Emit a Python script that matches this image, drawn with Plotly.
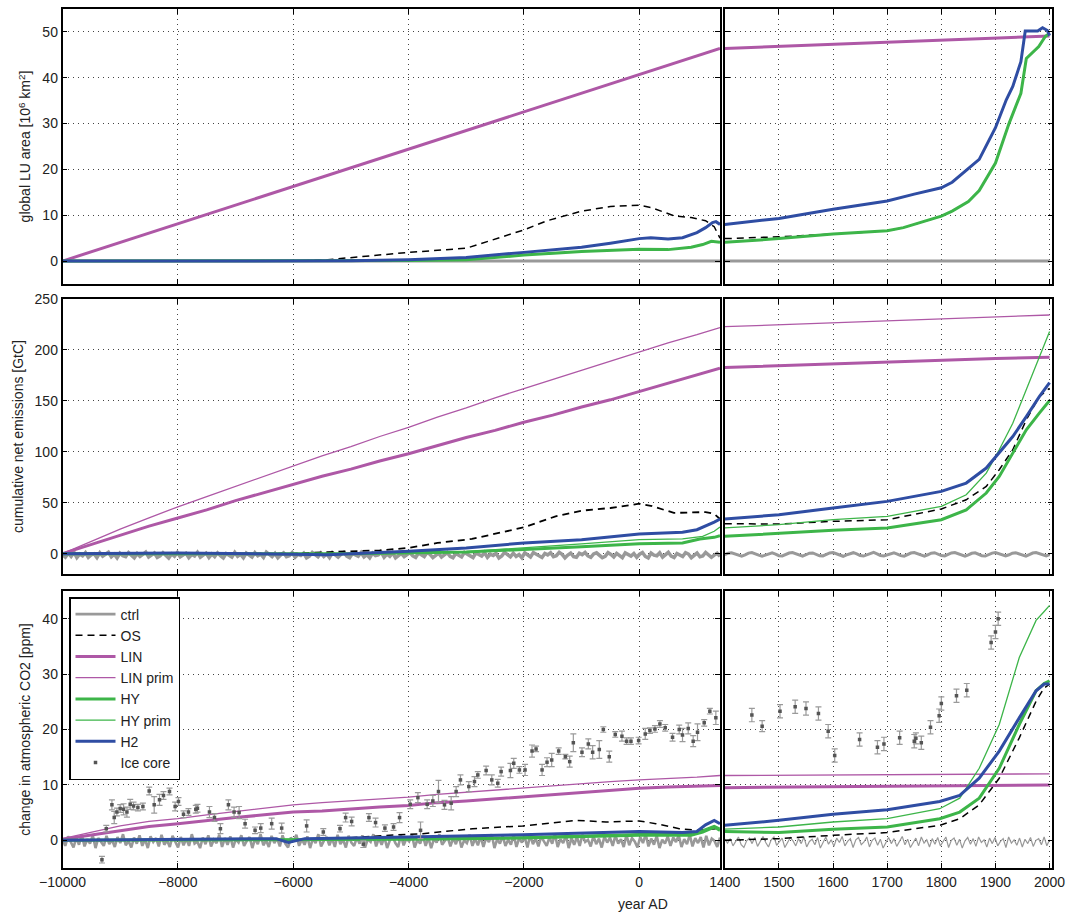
import numpy as np
import plotly.graph_objects as go

# ---------------- DATA ----------------
# Panel 1: global land-use area [10^6 km^2]
lu_ctrl_left_x = [-10000, 1400]
lu_ctrl_left_y = [0, 0]
lu_ctrl_right_x = [1400, 2000]
lu_ctrl_right_y = [0, 0]

lu_lin_left_x = [-10000, 1400]
lu_lin_left_y = [0, 46.4]
lu_lin_right_x = [1400, 2000]
lu_lin_right_y = [46.4, 49.1]

lu_os_left_x = [-10000, -6000, -5400, -4000, -3000, -2500, -2000, -1600, -1000, -500, 0, 200, 600, 900, 1150, 1300, 1400]
lu_os_left_y = [0, 0, 0.3, 1.9, 2.8, 4.8, 6.8, 8.8, 10.9, 11.9, 12.2, 11.7, 9.9, 9.5, 8.8, 7.5, 5.0]
lu_os_right_x = [1400, 1500, 1600, 1700, 1730, 1765, 1800, 1820, 1850, 1870, 1900, 1925, 1947, 1957, 1980, 1992, 2000]
lu_os_right_y = [4.9, 5.3, 5.9, 6.6, 7.3, 8.5, 9.8, 10.9, 13.0, 15.4, 21.4, 30.0, 36.6, 44.2, 46.8, 49.0, 49.7]

lu_h2_left_x = [-10000, -6000, -5000, -4000, -3000, -2000, -1000, -500, 0, 200, 500, 750, 1000, 1150, 1270, 1330, 1400]
lu_h2_left_y = [0, 0, 0.05, 0.3, 0.8, 1.9, 3.0, 3.9, 4.9, 5.1, 4.8, 5.1, 6.2, 7.3, 8.4, 8.6, 8.0]
lu_h2_right_x = [1400, 1500, 1600, 1700, 1750, 1800, 1820, 1845, 1870, 1900, 1920, 1932, 1947, 1955, 1978, 1987, 1996, 2000]
lu_h2_right_y = [8.0, 9.3, 11.3, 13.1, 14.6, 16.0, 17.2, 19.6, 22.2, 29.1, 35.2, 38.1, 43.5, 50.2, 50.2, 50.9, 50.3, 49.2]

lu_hy_left_x = [-10000, -6000, -4000, -3000, -2000, -1000, 0, 500, 900, 1100, 1250, 1400]
lu_hy_left_y = [0, 0, 0.1, 0.3, 1.3, 2.1, 2.6, 2.5, 3.0, 3.6, 4.3, 4.1]
lu_hy_right_x = [1400, 1500, 1600, 1700, 1730, 1765, 1800, 1820, 1850, 1870, 1900, 1925, 1947, 1957, 1980, 1992, 2000]
lu_hy_right_y = [4.1, 4.9, 5.9, 6.6, 7.3, 8.5, 9.8, 10.9, 13.0, 15.4, 21.4, 30.0, 36.6, 44.2, 46.8, 49.0, 49.7]

# Panel 2: cumulative net emissions [GtC]
em_lin_left_x = [-10000, -9500, -9000, -8500, -8000, -7500, -7000, -6500, -6000, -5500, -5000, -4500,
                 -4000, -3500, -3000, -2500, -2000, -1500, -1000, -500, 0, 500, 1000, 1400]
em_lin_left_y = [0, 9, 18, 27, 35, 43, 52, 60, 68, 76, 83, 91, 98, 106, 114, 121, 129, 136, 144, 151, 159, 167, 175, 182]
em_linp_left_y = [0, 12, 24, 35, 46, 56, 66, 76, 86, 96, 105, 115, 124, 134, 143, 153, 162, 171, 180, 189, 198, 207, 215, 222]

em_os_left_x = [-10000, -6000, -5400, -4500, -4000, -3500, -2900, -2000, -1450, -1000, -500, 0, 200, 600, 1150, 1300, 1400]
em_os_left_y = [0, 0, 1.5, 3.2, 5.6, 10.5, 14.4, 25.8, 36.6, 42.2, 44.8, 49.0, 47.0, 40.0, 40.8, 39.0, 34.0]
em_h2_left_x = [-10000, -8000, -6000, -5400, -4000, -3000, -2000, -1000, 0, 750, 1000, 1200, 1300, 1400]
em_h2_left_y = [0, 0.5, -0.5, -1.0, 2.3, 5.5, 10.5, 13.7, 19.3, 20.9, 23.5, 28.0, 31.0, 34.0]
em_hyp_left_x = [-10000, -5000, -3000, -2000, -1000, 0, 750, 1100, 1300, 1400]
em_hyp_left_y = [0, 0, 2.0, 5.6, 9.5, 13.7, 14.4, 17.0, 22.0, 26.2]
em_hy_left_x = [-10000, -5000, -3000, -2000, -1000, 0, 750, 1050, 1300, 1400]
em_hy_left_y = [0, 0, 1.5, 3.9, 6.8, 9.8, 10.5, 14.4, 16.0, 17.6]

em_right_x = [1400, 1500, 1600, 1700, 1800, 1846, 1883, 1907, 1932, 1957, 1981, 2000]
em_h2_right_y = [34.0, 38.2, 44.8, 51.3, 61.1, 69.3, 84.0, 98.7, 115.0, 134.6, 154.2, 168.0]
em_hyp_right_y = [25.2, 28.4, 33.3, 36.6, 46.4, 57.8, 79.0, 102.0, 128.0, 160.8, 193.4, 218.0]
em_os_right_y = [29.4, 29.0, 31.7, 33.3, 43.8, 52.9, 66.0, 82.4, 102.0, 131.4, 154.2, 162.4]
em_hy_right_y = [17.0, 20.3, 22.9, 25.2, 33.3, 43.0, 59.5, 75.8, 98.7, 121.6, 138.0, 150.3]
em_lin_right_x = [1400, 1500, 1600, 1700, 1800, 1900, 2000]
em_lin_right_y = [182.7, 184.5, 186.5, 188.5, 190.0, 191.5, 192.8]
em_linp_right_y = [222.8, 224.8, 226.8, 228.9, 230.7, 232.6, 234.3]

em_ctrl_left_y = [-1.0, -3.5, 0.5, -2.8, 1.2, -4.0, -0.5, -2.2, 0.9, -3.6, -1.3, -0.2, -3.9, 0.8, -2.5, -1.0, 1.3, -3.2, -0.6, -4.2,
                  0.4, -2.0, -3.0, 1.0, -1.6, -4.1, 0.2, -2.7, -0.8, 1.4, -3.4, -1.2, 0.6, -3.8, -2.3, 0.9, -1.9, -4.3, -0.3, -2.6,
                  1.1, -3.1, -1.4, 0.3, -4.0, -0.9, -2.4, 1.3, -3.5, -1.7, 0.5, -3.9, -0.4, -2.9, 0.8, -2.1, -4.2, 0.1, -1.5, -3.3,
                  1.2, -2.6, -0.7, -4.0, 0.6, -1.8, -3.4, 0.9, -2.2, -0.5, -3.7, 1.4, -1.1, -2.9, 0.2, -4.1, -1.3, 0.7, -3.0, -2.0,
                  1.0, -3.6, -0.8, -1.9, 0.4, -4.2, -2.5, 1.2, -1.0, -3.2, 0.6, -2.8, -0.3, -4.0, 0.9, -1.6, -3.5, -0.6, 1.3, -2.4,
                  -3.9, 0.2, -1.4, -2.7, 1.1, -3.3, -0.9, -4.1, 0.5, -2.0, -1.2, 1.4, -3.6, -0.4, -2.6, 0.8, -4.2, -1.7, 0.3, -3.0,
                  -0.7, 1.0, -2.3, -3.8, 0.6, -1.5, -2.9, 1.3, -0.8, -4.0, -2.1, 0.4, -3.4, -1.0, 0.9, -2.6, -4.1, 0.1, -1.8, -3.2,
                  1.2, -0.5, -2.8, -3.9, 0.7, -1.3, -2.4, 1.0, -3.6, -0.6, -1.9, 0.3, -4.2, -2.2, 1.4, -1.1, -3.1, 0.5, -2.7, -0.9,
                  -4.0, 0.8, -1.6, -3.3, 1.1, -0.4, -2.5, -3.8, 0.2, -1.2, 0.9, -3.0, -2.0, 1.3, -0.7, -4.1, -1.4, 0.6, -2.9, -3.5,
                  0.4, -1.0, 1.2, -2.3, -3.7, -0.3, 0.8, -1.7, -4.0, -2.6, 1.0, -0.8, -3.2, 0.3, -1.9, -3.9, 0.7, -1.1, -2.4, 0.1,
                  -3.6, -0.6, 1.1, -2.8, -4.2, 0.5, -1.5, -2.1, 0.9, -3.4, -0.9, 1.3, -2.5, -3.8, 0.2, -1.3, -2.9, 1.0, -0.4, -4.0,
                  -1.8, 0.6, -3.1, -2.2, 1.2, -0.7, -3.6, -1.4, 0.4, -2.7]
em_ctrl_right_y = [-1.0, 0.4, 0.9, -0.2, -1.8, -2.4, -1.2, 0.5, 1.0, 0.1, -1.5, -2.6, -1.4, 0.3, 0.8, -0.4, -2.0, -2.3,
                   -0.9, 0.6, 1.1, -0.1, -1.7, -2.5, -1.1, 0.4, 0.7, -0.5, -2.1, -2.2, -0.8, 0.7, 1.0, 0.0, -1.6, -2.6,
                   -1.3, 0.2, 0.9, -0.3, -1.9, -2.4, -1.0, 0.5, 1.2, -0.2, -1.8, -2.3, -1.2, 0.3, 0.8, -0.4, -2.0, -2.5,
                   -0.9, 0.6, 1.0, -0.1, -1.7, -2.4, -1.1, 0.4, 0.9, -0.3, -1.9, -2.2, -0.8, 0.7, 1.1, 0.0, -1.6, -2.5,
                   -1.2, 0.3, 0.8, -0.4, -2.0, -2.4, -1.0, 0.5, 1.0, -0.2, -1.8, -2.3, -1.1, 0.4, 0.9, -0.3, -1.9, -2.5,
                   -0.9, 0.6, 1.0, -0.1, -1.7, -2.3, -1.0]

# Panel 3: change in atmospheric CO2 [ppm]
co2_lin_left_x = [-10000, -9500, -9000, -8500, -8000, -7500, -7000, -6500, -6000, -5500, -5000, -4500,
                  -4000, -3500, -3000, -2500, -2000, -1500, -1000, -500, 0, 500, 1000, 1400]
co2_lin_left_y = [0.2, 1.0, 1.8, 2.5, 3.0, 3.6, 4.1, 4.6, 5.1, 5.3, 5.7, 6.0, 6.3, 6.8, 7.1, 7.5, 7.9, 8.3, 8.7, 9.1, 9.4, 9.6, 9.8, 9.9]
co2_linp_left_y = [0.3, 1.4, 2.6, 3.4, 3.9, 4.6, 5.2, 5.8, 6.4, 6.8, 7.1, 7.4, 7.8, 8.3, 8.7, 9.1, 9.4, 9.8, 10.2, 10.6, 10.9, 11.1, 11.4, 11.7]

co2_os_left_x = [-10000, -6000, -5600, -4329, -3752, -2886, -2020, -1097, -577, 0, 288, 693, 1039, 1328, 1400]
co2_os_left_y = [0, 0, 0.1, 0.9, 1.2, 2.1, 2.6, 3.6, 3.3, 3.5, 3.0, 2.1, 1.8, 2.1, 2.0]
co2_h2_left_x = [-10000, -8000, -6300, -6084, -5800, -4000, -2020, 0, 750, 1000, 1150, 1300, 1400]
co2_h2_left_y = [0.0, 0.2, 0.3, -0.4, 0.3, 0.6, 1.0, 1.6, 1.4, 1.6, 2.8, 3.6, 3.0]
co2_hy_left_x = [-10000, -6000, -4000, -2020, 0, 900, 1100, 1300, 1400]
co2_hy_left_y = [0.0, 0.1, 0.2, 0.4, 0.9, 0.9, 1.5, 2.4, 1.8]
co2_hyp_left_x = [-10000, -6000, -4000, -2020, 0, 900, 1100, 1300, 1400]
co2_hyp_left_y = [0.0, 0.1, 0.3, 0.6, 1.2, 1.2, 1.9, 2.7, 2.2]

co2_right_x = [1400, 1500, 1600, 1700, 1797, 1834, 1870, 1907, 1944, 1975, 1990, 2000]
co2_h2_right_y = [2.7, 3.6, 4.7, 5.5, 7.0, 8.1, 11.2, 16.1, 22.1, 27.0, 28.2, 28.2]
co2_hyp_right_y = [2.0, 2.4, 3.3, 3.9, 5.7, 7.6, 13.0, 20.9, 33.0, 39.7, 41.3, 42.4]
co2_hy_right_y = [1.6, 1.4, 2.0, 2.4, 3.9, 5.1, 7.6, 13.0, 20.9, 27.0, 28.3, 28.8]
co2_os_right_y = [0.0, 0.3, 0.9, 1.4, 2.7, 3.9, 6.4, 11.2, 18.5, 25.1, 27.5, 28.2]
co2_lin_right_x = [1400, 1600, 1800, 2000]
co2_lin_right_y = [9.5, 9.7, 9.8, 10.0]
co2_linp_right_y = [11.7, 11.8, 11.9, 12.0]

co2_ctrl_left_y = [0.3, -1.0, 0.7, -0.4, -1.3, 0.5, -0.8, 1.0, -1.1, 0.2, -0.6, 0.9, -1.4, 0.4, -0.2, -1.0, 0.8, -0.7, 0.1, -1.2,
                   0.6, -0.5, 1.1, -0.9, -0.1, -1.3, 0.5, -0.6, 0.9, -1.0, 0.2, -1.4, 0.7, -0.3, 0.4, -1.1, 1.0, -0.8, 0.0, -1.2,
                   0.8, -0.4, -1.3, 0.6, -0.9, 0.3, -1.0, 1.1, -0.6, -0.2, -1.4, 0.5, -0.7, 0.9, -1.1, 0.1, -0.5, 1.0, -1.2, 0.4,
                   -0.8, 0.7, -1.3, 0.2, -0.4, 0.9, -1.0, -0.1, 0.6, -1.4, 0.3, -0.7, 1.1, -0.9, 0.0, -1.2, 0.8, -0.5, 0.4, -1.1,
                   0.9, -0.6, -1.3, 0.5, -0.2, 1.0, -1.0, 0.2, -0.8, 0.7, -1.4, 0.3, -0.5, 1.1, -1.1, -0.1, 0.6, -0.9, 0.4, -1.2,
                   1.0, -0.7, 0.1, -1.3, 0.8, -0.4, -1.0, 0.5, -0.6, 0.9, -1.2, 0.2, -0.3, 1.1, -1.1, 0.4, -0.8, 0.6, -1.4, 0.0,
                   0.7, -0.5, -1.2, 0.9, -0.9, 0.3, -0.2, 1.0, -1.3, 0.1, -0.6, 0.8, -1.0, 0.5, -1.4, 0.2, -0.4, 1.1, -0.8, -0.1,
                   0.6, -1.1, 0.4, -0.7, 0.9, -1.3, 0.0, -0.5, 1.0, -1.0, 0.3, -0.9, 0.7, -1.2, 0.5, -0.3, 1.1, -1.4, 0.2, -0.6,
                   0.8, -1.0, 0.1, -0.8, 1.0, -1.2, 0.4, -0.4, 0.6, -1.3, 0.9, -0.7, 0.3, -1.1, 0.7, -0.2, -1.0, 0.5, -0.6, 1.1,
                   -1.2, 0.2, -0.5, 0.9, -1.4, 0.4, -0.8, 0.6, -1.0, 1.0, -0.3, 0.1, -1.1, 0.8, -0.7, 0.3, -1.3, 0.7, -0.4, 0.5,
                   -1.0, 0.9, -0.6, 0.2, -1.2, 1.0, -0.9, 0.4, -0.2, -1.3, 0.6, -0.5, 1.1, -1.1, 0.3, -0.8, 0.8, -1.4, 0.1, -0.6,
                   0.7, -1.0, 0.5, -0.3, 0.9, -1.2, 0.2, -0.7, 1.0, -1.1, 0.4, -0.5, 0.6, -1.3, 0.8, -0.9, 0.3, -0.1, -1.2, 0.5]
co2_ctrl_right_y = [0.2, -0.5, 0.3, -1.0, -0.2, 0.6, -0.8, -1.3, -0.1, 0.4, -0.6, 0.5, -1.1, -0.3, 0.7, -0.4, -1.2, 0.1,
                    0.6, -0.9, -0.2, 0.4, -1.3, -0.5, 0.5, -0.1, -1.0, 0.3, -0.6, 0.6, -1.2, -0.2, 0.2, -0.8, 0.5, -1.4,
                    -0.3, 0.6, -0.7, 0.1, -1.1, 0.4, -0.4, 0.7, -1.0, -0.2, 0.3, -1.3, 0.1, 0.5, -0.8, -0.3, 0.6, -1.2,
                    0.0, 0.4, -0.9, 0.2, -1.4, -0.4, 0.5, -0.6, 0.3, -1.1, -0.1, 0.7, -0.8, 0.2, -1.3, -0.3, 0.4, -1.0,
                    0.6, -0.5, 0.1, -1.2, 0.3, -0.7, 0.5, -1.0, -0.2, 0.6, -1.3, 0.0, 0.4, -0.9, 0.2, -1.4, -0.1, 0.5,
                    -0.7, 0.3, -1.1, 0.6, -0.4, 0.1, -1.2, 0.4, -0.6, 0.5, -1.0, -0.2, 0.3, -1.3, 0.6, -0.5, 0.1, -0.9,
                    0.4, -1.2, 0.2, -0.6, 0.5, -1.1, 0.0, 0.3, -0.8, 0.6, -1.0, 0.1]

ice_left_year = [-9316, -9241, -9143, -9103, -9057, -9000, -8941, -8883, -8826, -8768, -8693, -8606, -8497, -8410,
                 -8318, -8249, -8145, -8047, -7989, -7902, -7816, -7689, -7660, -7452, -7365, -7262, -7123, -7025,
                 -6938, -6834, -6661, -6563, -6373, -6200, -5767, -5478, -5189, -5091, -4987, -4785, -4687, -4572,
                 -4410, -4260, -4156, -3971, -3838, -3792, -3677, -3579, -3481, -3377, -3261, -3175, -3100, -2955,
                 -2857, -2799, -2655, -2557, -2453, -2395, -2234, -2176, -2078, -1980, -1859, -1789, -1685, -1599,
                 -1518, -1397, -1281, -1206, -1143, -993, -883, -808, -693, -623, -520, -416, -300, -219, -144, -11,
                 104, 185, 272, 358, 450, 577, 693, 750, 849, 935, 1010, 1126, 1224, 1328]
ice_left_co2 = [-3.5, 2.1, 6.4, 4.1, 5.1, 5.75, 5.6, 5.1, 6.5, 6.2, 5.9, 6.1, 8.9, 6.4, 7.3, 8.1, 8.8, 6.1, 7.0, 4.7,
                5.1, 5.6, 5.8, 5.1, 4.1, 2.1, 6.4, 5.1, 5.0, 3.0, 1.8, 2.2, 3.0, 2.2, 2.6, 1.5, 2.1, 4.1, 3.4, -0.7,
                4.1, 3.2, 2.2, 2.4, 4.1, 6.5, 7.7, 1.8, 6.5, 7.1, 8.8, 6.4, 6.7, 8.8, 10.9, 9.7, 10.6, 11.8, 12.6,
                10.9, 10.3, 12.4, 12.6, 13.9, 12.7, 12.7, 16.1, 16.5, 12.7, 14.1, 14.5, 16.1, 15.1, 14.2, 17.6, 15.9,
                17.4, 15.9, 16.4, 20.0, 15.1, 19.1, 18.8, 17.9, 17.9, 18.0, 19.2, 19.8, 20.1, 21.0, 20.3, 18.6, 20.0,
                19.0, 20.2, 17.9, 19.5, 21.2, 23.3, 22.1]
ice_left_err = [0.6, 0.6, 0.9, 1.1, 0.7, 0.7, 1.0, 0.9, 0.9, 0.7, 0.6, 0.6, 0.7, 1.5, 1.0, 0.7, 0.6, 0.8, 0.7, 0.6,
                0.6, 0.7, 0.7, 1.0, 0.7, 0.9, 0.9, 0.9, 1.1, 0.8, 0.6, 0.8, 1.0, 0.9, 1.1, 0.6, 0.6, 0.8, 0.8, 0.6,
                0.7, 0.8, 0.6, 0.6, 0.9, 0.8, 0.9, 1.5, 0.8, 1.0, 2.0, 0.8, 1.2, 0.9, 0.9, 0.9, 0.9, 0.6, 0.8, 0.9,
                0.7, 0.8, 1.3, 0.9, 0.6, 1.0, 1.1, 0.5, 1.0, 0.8, 1.2, 0.6, 0.4, 1.0, 1.6, 0.8, 0.9, 1.2, 1.6, 0.5,
                1.0, 0.5, 0.9, 0.6, 0.6, 0.6, 1.0, 0.5, 0.6, 0.6, 0.6, 0.7, 0.8, 1.2, 1.0, 1.0, 1.5, 0.6, 0.5, 1.2]
ice_right_year = [1450, 1469, 1502, 1530, 1550, 1573, 1591, 1603, 1649, 1682, 1694, 1723, 1750, 1753, 1763, 1780,
                  1796, 1800, 1828, 1847, 1892, 1900, 1905]
ice_right_co2 = [22.6, 20.6, 23.3, 24.1, 23.8, 22.9, 19.7, 15.3, 18.2, 16.8, 17.4, 18.5, 17.9, 18.4, 17.6, 20.4,
                 22.5, 24.7, 26.1, 27.1, 35.7, 37.6, 40.0]
ice_right_err = [1.2, 1.0, 1.2, 1.2, 1.2, 1.2, 1.2, 1.2, 1.2, 1.2, 1.2, 1.2, 1.2, 1.0, 1.2, 1.2, 1.2, 1.2, 1.2, 1.2,
                 1.2, 1.2, 1.2]

# ---------------- STYLE ----------------
FONT = "Liberation Sans, Arial, Helvetica, sans-serif"
TXT = "#222222"
MAG = "#AE58A6"
GRN = "#3DB549"
BLU = "#2F4DA3"
GRY = "#999999"

W, H = 1069, 914
XL = [62.5 / W, 720 / W]
XR = [724.8 / W, 1052.3 / W]
Y1 = [1 - 284 / H, 1 - 9 / H]
Y2 = [1 - 574 / H, 1 - 299 / H]
Y3 = [1 - 868 / H, 1 - 591 / H]

fig = go.Figure()


def line(x, y, ax, color, width, name, dash=None, legend=False):
    fig.add_trace(go.Scatter(
        x=x, y=y, mode="lines", name=name, xaxis="x" + ax, yaxis="y" + ax,
        line=dict(color=color, width=width, dash=dash), showlegend=legend, legendgroup=name,
        hoverinfo="skip"))


def ice(x, y, e, ax, legend=False):
    fig.add_trace(go.Scatter(
        x=x, y=y, mode="markers", name="Ice core", xaxis="x" + ax, yaxis="y" + ax,
        marker=dict(color="#555555", size=3.5, symbol="square"),
        error_y=dict(type="data", array=e, visible=True, color="#9a9a9a", thickness=1.2, width=3),
        showlegend=legend, legendgroup="Ice core", hoverinfo="skip"))


DASH = "7px,5px"

# bottom-left (axis "5") first so the legend order is set there
line(list(np.linspace(-10000, 1400, len(co2_ctrl_left_y))), co2_ctrl_left_y, "5", GRY, 2.6, "ctrl", legend=True)
line(co2_os_left_x, co2_os_left_y, "5", "black", 1.5, "OS", dash=DASH, legend=True)
line(co2_lin_left_x, co2_lin_left_y, "5", MAG, 3, "LIN", legend=True)
line(co2_lin_left_x, co2_linp_left_y, "5", MAG, 1.3, "LIN prim", legend=True)
line(co2_hy_left_x, co2_hy_left_y, "5", GRN, 3, "HY", legend=True)
line(co2_hyp_left_x, co2_hyp_left_y, "5", GRN, 1.3, "HY prim", legend=True)
line(co2_h2_left_x, co2_h2_left_y, "5", BLU, 3, "H2", legend=True)
ice(ice_left_year, ice_left_co2, ice_left_err, "5", legend=True)

# bottom-right
line(list(np.linspace(1400, 2000, len(co2_ctrl_right_y))), co2_ctrl_right_y, "6", GRY, 1.2, "ctrl")
line(co2_right_x, co2_os_right_y, "6", "black", 1.5, "OS", dash=DASH)
line(co2_lin_right_x, co2_lin_right_y, "6", MAG, 3, "LIN")
line(co2_lin_right_x, co2_linp_right_y, "6", MAG, 1.3, "LIN prim")
line(co2_right_x, co2_hy_right_y, "6", GRN, 3, "HY")
line(co2_right_x, co2_hyp_right_y, "6", GRN, 1.3, "HY prim")
line(co2_right_x, co2_h2_right_y, "6", BLU, 3, "H2")
ice(ice_right_year, ice_right_co2, ice_right_err, "6")

# top-left (axis "")
line(lu_ctrl_left_x, lu_ctrl_left_y, "", GRY, 3, "ctrl")
line(lu_os_left_x, lu_os_left_y, "", "black", 1.5, "OS", dash=DASH)
line(lu_lin_left_x, lu_lin_left_y, "", MAG, 3, "LIN")
line(lu_hy_left_x, lu_hy_left_y, "", GRN, 3, "HY")
line(lu_h2_left_x, lu_h2_left_y, "", BLU, 3, "H2")
# top-right
line(lu_ctrl_right_x, lu_ctrl_right_y, "2", GRY, 3, "ctrl")
line(lu_os_right_x, lu_os_right_y, "2", "black", 1.5, "OS", dash=DASH)
line(lu_lin_right_x, lu_lin_right_y, "2", MAG, 3, "LIN")
line(lu_hy_right_x, lu_hy_right_y, "2", GRN, 3, "HY")
line(lu_h2_right_x, lu_h2_right_y, "2", BLU, 3, "H2")

# middle-left
line(list(np.linspace(-10000, 1400, len(em_ctrl_left_y))), em_ctrl_left_y, "3", GRY, 3.5, "ctrl")
line(em_os_left_x, em_os_left_y, "3", "black", 1.8, "OS", dash=DASH)
line(em_lin_left_x, em_lin_left_y, "3", MAG, 3, "LIN")
line(em_lin_left_x, em_linp_left_y, "3", MAG, 1.3, "LIN prim")
line(em_hy_left_x, em_hy_left_y, "3", GRN, 3, "HY")
line(em_hyp_left_x, em_hyp_left_y, "3", GRN, 1.3, "HY prim")
line(em_h2_left_x, em_h2_left_y, "3", BLU, 3, "H2")
# middle-right
line(list(np.linspace(1400, 2000, len(em_ctrl_right_y))), em_ctrl_right_y, "4", GRY, 3, "ctrl")
line(em_right_x, em_os_right_y, "4", "black", 1.5, "OS", dash=DASH)
line(em_lin_right_x, em_lin_right_y, "4", MAG, 3, "LIN")
line(em_lin_right_x, em_linp_right_y, "4", MAG, 1.3, "LIN prim")
line(em_right_x, em_hy_right_y, "4", GRN, 3, "HY")
line(em_right_x, em_hyp_right_y, "4", GRN, 1.3, "HY prim")
line(em_right_x, em_h2_right_y, "4", BLU, 3, "H2")

# ---------------- AXES ----------------
base = dict(showline=True, linecolor="black", linewidth=1.5, mirror="ticks", ticks="inside", ticklen=5,
            tickwidth=1, tickcolor="black", showgrid=True, gridcolor="#444444", gridwidth=1,
            griddash="1px,4px", zeroline=False, tickfont=dict(family=FONT, size=14, color=TXT),
            automargin=False)

xl = dict(base, range=[-10000, 1400], tick0=-10000, dtick=2000, tickformat="d", domain=XL)
xr = dict(base, range=[1400, 2005], tick0=1400, dtick=100, tickformat="d", domain=XR)
ttl = dict(family=FONT, size=14, color=TXT)

layout = dict(
    width=W, height=H, margin=dict(l=0, r=0, t=0, b=0),
    paper_bgcolor="white", plot_bgcolor="white",
    font=dict(family=FONT, size=14, color=TXT),
    showlegend=True,
    legend=dict(x=69 / W, y=1 - 597 / H, xanchor="left", yanchor="top", bgcolor="white",
                bordercolor="black", borderwidth=1.5, font=dict(family=FONT, size=14, color=TXT),
                tracegroupgap=0, itemwidth=40),
    xaxis=dict(xl, anchor="y", showticklabels=False),
    xaxis2=dict(xr, anchor="y2", showticklabels=False),
    xaxis3=dict(xl, anchor="y3", showticklabels=False),
    xaxis4=dict(xr, anchor="y4", showticklabels=False),
    xaxis5=dict(xl, anchor="y5"),
    xaxis6=dict(xr, anchor="y6"),
    yaxis=dict(base, range=[-5, 55], dtick=10, domain=Y1, anchor="x",
               title=dict(text="global LU area [10<sup>6</sup> km<sup>2</sup>]", font=ttl, standoff=8)),
    yaxis2=dict(base, range=[-5, 55], dtick=10, domain=Y1, anchor="x2", showticklabels=False),
    yaxis3=dict(base, range=[-20, 250], dtick=50, domain=Y2, anchor="x3",
                title=dict(text="cumulative net emissions [GtC]", font=ttl, standoff=8)),
    yaxis4=dict(base, range=[-20, 250], dtick=50, domain=Y2, anchor="x4", showticklabels=False),
    yaxis5=dict(base, range=[-5, 45], dtick=10, domain=Y3, anchor="x5",
                title=dict(text="change in atmospheric CO2 [ppm]", font=ttl, standoff=8)),
    yaxis6=dict(base, range=[-5, 45], dtick=10, domain=Y3, anchor="x6", showticklabels=False),
    annotations=[dict(text="year AD", x=643 / W, y=1 - 904 / H, xref="paper", yref="paper",
                      showarrow=False, font=dict(family=FONT, size=14, color=TXT),
                      xanchor="center", yanchor="middle")],
)
fig.update_layout(**layout)

fig.write_html("out.html", config={"displayModeBar": False},
               post_script="document.body.style.margin='0';")
